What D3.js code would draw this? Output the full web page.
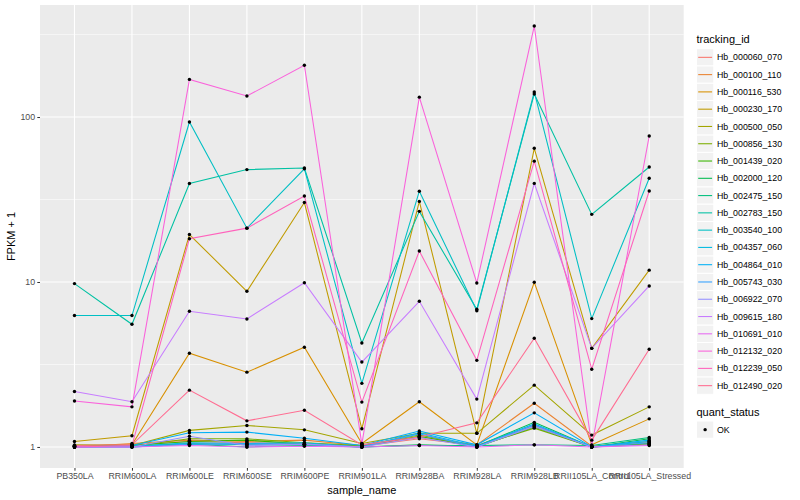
<!DOCTYPE html>
<html>
<head>
<meta charset="utf-8">
<script src="https://cdn.jsdelivr.net/npm/d3@7"></script>
<style>
  body { margin: 0; background: #fff; }
  svg { display: block; font-family: "Liberation Sans", Arial, Helvetica, sans-serif; }
  .tick text { fill: #4d4d4d; font-size: 8.8px; }
  .tick line { stroke: #333; }
</style>
</head>
<body>
<div id="chart"></div>
<script>
// sample_name (x), tracking_id (series), FPKM + 1 (y)
const samples = ["PB350LA", "RRIM600LA", "RRIM600LE", "RRIM600SE", "RRIM600PE", "RRIM901LA",
  "RRIM928BA", "RRIM928LA", "RRIM928LB", "RRII105LA_Control", "RRII105LA_Stressed"];

const trackingIds = ["Hb_000060_070", "Hb_000100_110", "Hb_000116_530", "Hb_000230_170", "Hb_000500_050",
  "Hb_000856_130", "Hb_001439_020", "Hb_002000_120", "Hb_002475_150", "Hb_002783_150",
  "Hb_003540_100", "Hb_004357_060", "Hb_004864_010", "Hb_005743_030", "Hb_006922_070",
  "Hb_009615_180", "Hb_010691_010", "Hb_012132_020", "Hb_012239_050", "Hb_012490_020"];

// ggplot hue palette, 20 levels
const hueColors = ["#F8766D", "#EA8331", "#D89000", "#C09B00", "#A3A500", "#7CAE00", "#39B600", "#00BB4E",
  "#00BF7D", "#00C1A3", "#00BFC4", "#00BAE0", "#00B0F6", "#35A2FF", "#9590FF", "#C77CFF",
  "#E76BF3", "#FA62DB", "#FF62BC", "#FF6C91"];

const fpkm = [
  [1.01, 1.03, 1.08, 1.06, 1.05, 1.01, 1.12, 1.02, 1.35, 1.00, 1.06],
  [1.00, 1.05, 1.10, 1.08, 1.10, 1.02, 1.15, 1.03, 1.84, 1.01, 1.08],
  [1.02, 1.03, 3.70, 2.84, 4.02, 1.05, 1.88, 1.03, 9.96, 1.03, 1.48],
  [1.08, 1.17, 19.4, 8.78, 30.3, 1.29, 30.8, 1.21, 64.6, 3.96, 11.8],
  [1.03, 1.02, 1.26, 1.35, 1.27, 1.05, 1.21, 1.21, 2.37, 1.18, 1.75],
  [1.02, 1.01, 1.12, 1.12, 1.06, 1.02, 1.18, 1.01, 1.30, 1.00, 1.04],
  [1.01, 1.02, 1.08, 1.10, 1.04, 1.01, 1.16, 1.00, 1.32, 1.00, 1.05],
  [1.00, 1.01, 1.05, 1.03, 1.03, 1.00, 1.03, 1.01, 1.41, 1.00, 1.12],
  [1.00, 1.00, 1.04, 1.00, 1.02, 1.00, 1.02, 1.02, 1.03, 1.02, 1.14],
  [9.78, 5.54, 39.5, 48.0, 49.1, 4.27, 26.8, 6.83, 138, 25.7, 49.8],
  [6.26, 6.26, 93.3, 21.2, 48.5, 2.43, 35.5, 6.70, 142, 6.00, 42.5],
  [1.00, 1.01, 1.06, 1.05, 1.06, 1.00, 1.22, 1.01, 1.38, 1.00, 1.08],
  [1.00, 1.02, 1.22, 1.23, 1.13, 1.02, 1.25, 1.03, 1.61, 1.00, 1.10],
  [1.00, 1.00, 1.04, 1.04, 1.04, 1.00, 1.20, 1.00, 1.36, 1.00, 1.06],
  [1.00, 1.00, 1.16, 1.02, 1.04, 1.00, 1.14, 1.00, 1.33, 1.00, 1.03],
  [2.17, 1.88, 6.64, 5.97, 9.90, 3.27, 7.64, 1.95, 39.6, 3.96, 9.46],
  [1.00, 1.00, 1.02, 1.00, 1.01, 1.00, 1.02, 1.00, 1.03, 1.00, 1.02],
  [1.90, 1.75, 169, 134, 206, 1.04, 132, 9.86, 356, 1.01, 76.7],
  [1.00, 1.02, 18.3, 21.2, 33.2, 1.87, 15.4, 3.35, 54.0, 2.96, 35.6],
  [1.02, 1.03, 2.21, 1.44, 1.67, 1.03, 1.15, 1.40, 4.56, 1.10, 3.91]
];

const yTicks = [1, 10, 100];
const yMinor = [Math.sqrt(10), Math.sqrt(1000), Math.sqrt(100000)];
const quantStatus = ["OK"];

const series = trackingIds.map((id, i) => ({
  id,
  color: hueColors[i],
  points: samples.map((s, j) => ({ sample: s, value: fpkm[i][j] }))
}));

const width = 800, height = 500;
const panel = { left: 40, right: 683.7, top: 5, bottom: 468 };

const svg = d3.select("#chart").append("svg")
  .attr("width", width).attr("height", height);

const x = d3.scalePoint()
  .domain(samples)
  .range([panel.left, panel.right])
  .padding(0.6);

// expansion de 5 % en espace log, comme ggplot
const allVals = fpkm.flat();
const lo = Math.log10(d3.min(allVals)), hi = Math.log10(d3.max(allVals));
const pad = (hi - lo) * 0.05;
const y = d3.scaleLog()
  .domain([Math.pow(10, lo - pad), Math.pow(10, hi + pad)])
  .range([panel.bottom, panel.top]);

// fond du panneau
svg.append("rect")
  .attr("x", panel.left).attr("y", panel.top)
  .attr("width", panel.right - panel.left).attr("height", panel.bottom - panel.top)
  .attr("fill", "#ebebeb");

const grid = svg.append("g");
grid.selectAll("line.minor")
  .data(yMinor)
  .join("line")
    .attr("class", "minor")
    .attr("x1", panel.left).attr("x2", panel.right)
    .attr("y1", d => y(d)).attr("y2", d => y(d))
    .attr("stroke", "#fff").attr("stroke-width", 0.55);
grid.selectAll("line.major-y")
  .data(yTicks)
  .join("line")
    .attr("class", "major-y")
    .attr("x1", panel.left).attr("x2", panel.right)
    .attr("y1", d => y(d)).attr("y2", d => y(d))
    .attr("stroke", "#fff").attr("stroke-width", 1.1);
grid.selectAll("line.major-x")
  .data(samples)
  .join("line")
    .attr("class", "major-x")
    .attr("x1", d => x(d)).attr("x2", d => x(d))
    .attr("y1", panel.top).attr("y2", panel.bottom)
    .attr("stroke", "#fff").attr("stroke-width", 1.1);

// axes
svg.append("g")
  .attr("transform", `translate(${panel.left},0)`)
  .call(d3.axisLeft(y).tickValues(yTicks).tickFormat(d3.format("d")).tickSize(2.7).tickPadding(2.2))
  .call(g => g.select(".domain").remove());

svg.append("g")
  .attr("transform", `translate(0,${panel.bottom})`)
  .call(d3.axisBottom(x).tickSize(2.7).tickPadding(2.2))
  .call(g => g.select(".domain").remove());

svg.append("text")
  .attr("x", (panel.left + panel.right) / 2).attr("y", 494)
  .attr("text-anchor", "middle").attr("font-size", 11).attr("fill", "#000")
  .text("sample_name");

svg.append("text")
  .attr("transform", `translate(15,${(panel.top + panel.bottom) / 2}) rotate(-90)`)
  .attr("text-anchor", "middle").attr("font-size", 11).attr("fill", "#000")
  .text("FPKM + 1");

// lignes
const line = d3.line()
  .x(d => x(d.sample))
  .y(d => y(d.value));

svg.append("g")
  .selectAll("path")
  .data(series)
  .join("path")
    .attr("fill", "none")
    .attr("stroke", d => d.color)
    .attr("stroke-width", 1.07)
    .attr("d", d => line(d.points));

// points
svg.append("g")
  .selectAll("g")
  .data(series)
  .join("g")
  .selectAll("circle")
  .data(d => d.points)
  .join("circle")
    .attr("cx", d => x(d.sample))
    .attr("cy", d => y(d.value))
    .attr("r", 1.7)
    .attr("fill", "#000");

// légende
const legend = svg.append("g").attr("transform", "translate(696.5,0)");
const keyH = 17.28, keyTop = 48.7;

legend.append("text")
  .attr("x", 0).attr("y", 43)
  .attr("font-size", 11).attr("fill", "#000")
  .text("tracking_id");

const items = legend.selectAll("g.item")
  .data(series)
  .join("g")
    .attr("class", "item")
    .attr("transform", (d, i) => `translate(0,${keyTop + i * keyH})`);

items.append("rect")
  .attr("width", keyH).attr("height", keyH)
  .attr("fill", "#f2f2f2").attr("stroke", "#fff").attr("stroke-width", 1);
items.append("line")
  .attr("x1", 1.7).attr("x2", keyH - 1.7)
  .attr("y1", keyH / 2).attr("y2", keyH / 2)
  .attr("stroke", d => d.color).attr("stroke-width", 1.07);
items.append("text")
  .attr("x", keyH + 3.2).attr("y", keyH / 2).attr("dy", "0.35em")
  .attr("font-size", 8.8).attr("fill", "#000")
  .text(d => d.id);

legend.append("text")
  .attr("x", 0).attr("y", 415.5)
  .attr("font-size", 11).attr("fill", "#000")
  .text("quant_status");

const qs = legend.selectAll("g.qs")
  .data(quantStatus)
  .join("g")
    .attr("class", "qs")
    .attr("transform", (d, i) => `translate(0,${421 + i * keyH})`);
qs.append("rect")
  .attr("width", keyH).attr("height", keyH)
  .attr("fill", "#f2f2f2").attr("stroke", "#fff").attr("stroke-width", 1);
qs.append("circle")
  .attr("cx", keyH / 2).attr("cy", keyH / 2).attr("r", 1.7).attr("fill", "#000");
qs.append("text")
  .attr("x", keyH + 3.2).attr("y", keyH / 2).attr("dy", "0.35em")
  .attr("font-size", 8.8).attr("fill", "#000")
  .text(d => d);
</script>
</body>
</html>
